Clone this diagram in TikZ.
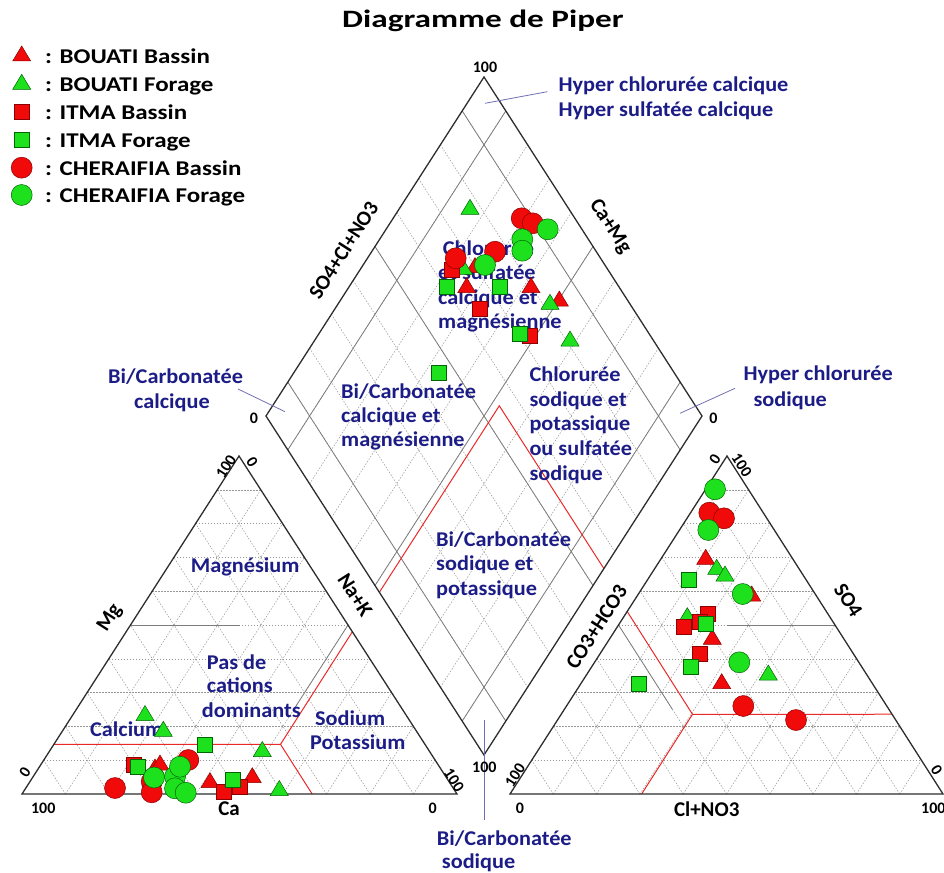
\documentclass[tikz,border=0pt]{standalone}
\usepackage{fontspec}
\setmainfont{Carlito}
\usetikzlibrary{calc}
\definecolor{lblue}{RGB}{28,28,135}
\definecolor{mred}{RGB}{240,10,10}
\definecolor{mredd}{RGB}{140,0,0}
\definecolor{mgreen}{RGB}{30,225,30}
\definecolor{mgreend}{RGB}{0,100,0}
\definecolor{gridc}{RGB}{150,150,150}
\definecolor{solidg}{RGB}{125,125,125}
\definecolor{framec}{RGB}{45,45,45}
\definecolor{redl}{RGB}{235,40,40}
\definecolor{annot}{RGB}{110,110,180}
\tikzset{
  gridline/.style={gridc, line width=0.5pt, dash pattern=on 1.5pt off 1.5pt},
  solidline/.style={solidg, line width=0.8pt},
  frameline/.style={framec, line width=1.3pt, line join=miter},
  redline/.style={redl, line width=1pt},
  annotline/.style={annot, line width=0.8pt},
  region/.style={lblue, font=\fontsize{21}{24}\selectfont\bfseries, inner sep=0pt, anchor=base west, xscale=1.06},
  axislabel/.style={black, font=\fontsize{21}{24}\selectfont\bfseries, inner sep=0pt},
  num/.style={black, font=\fontsize{16}{18}\selectfont\bfseries, inner sep=0pt},
  legtext/.style={black, font=\fontsize{21}{24}\selectfont\bfseries, anchor=base west, inner sep=0pt, xscale=1.19},
  rtri/.pic={\filldraw[fill=mred, draw=mredd, line width=0.5pt] (-9,6) -- (9,6) -- (0,-9) -- cycle;},
  gtri/.pic={\filldraw[fill=mgreen, draw=mgreend, line width=0.5pt] (-9,6) -- (9,6) -- (0,-9) -- cycle;},
  rsq/.pic={\filldraw[fill=mred, draw=mredd, line width=0.5pt] (-7.5,-7.5) rectangle (7.5,7.5);},
  gsq/.pic={\filldraw[fill=mgreen, draw=mgreend, line width=0.5pt] (-7.5,-7.5) rectangle (7.5,7.5);},
  rcirc/.pic={\filldraw[fill=mred, draw=mredd, line width=0.5pt] (0,0) circle (10.5);},
  gcirc/.pic={\filldraw[fill=mgreen, draw=mgreend, line width=0.5pt] (0,0) circle (10.5);},
}
\begin{document}
\begin{tikzpicture}[x=1pt,y=-1pt]
\useasboundingbox (0,0) rectangle (944,872);
% vertices
\coordinate (LA) at (22,794);
\coordinate (LB) at (457,794);
\coordinate (LC) at (239,456);
\coordinate (RA) at (510,794);
\coordinate (RB) at (943,794);
\coordinate (RC) at (727,456);
\coordinate (DL) at (266,416);
\coordinate (DT) at (484,77);
\coordinate (DB) at (484,755);
\coordinate (DR) at (702,416);
% grids
\foreach \f in {0.1,0.2,0.3,0.4,0.5,0.6,0.7,0.8,0.9}{
  \draw[gridline] ($(LA)!\f!(LC)$) -- ($(LB)!\f!(LC)$);
  \draw[gridline] ($(LA)!\f!(LB)$) -- ($(LA)!\f!(LC)$);
  \draw[gridline] ($(LB)!\f!(LA)$) -- ($(LB)!\f!(LC)$);
  \draw[gridline] ($(RA)!\f!(RC)$) -- ($(RB)!\f!(RC)$);
  \draw[gridline] ($(RA)!\f!(RB)$) -- ($(RA)!\f!(RC)$);
  \draw[gridline] ($(RB)!\f!(RA)$) -- ($(RB)!\f!(RC)$);
  \draw[gridline] ($(DL)!\f!(DB)$) -- ($(DT)!\f!(DR)$);
  \draw[gridline] ($(DL)!\f!(DT)$) -- ($(DB)!\f!(DR)$);
}
\foreach \f in {0.1,0.5,0.9}{
  \draw[solidline] ($(DL)!\f!(DB)$) -- ($(DT)!\f!(DR)$);
  \draw[solidline] ($(DL)!\f!(DT)$) -- ($(DB)!\f!(DR)$);
}
% partial solid lines in triangles
\draw[solidline] ($(LA)!0.5!(LC)$) -- (239.5,625);
\draw[solidline] ($(LB)!0.5!(LC)$) -- (293.75,709.5);
\draw[solidline] (726.5,625) -- ($(RB)!0.5!(RC)$);
\draw[solidline] ($(RA)!0.5!(RC)$) -- (672.5,709.5);
% red classification lines
\draw[redline] ($(LA)!0.147!(LC)$) -- (280.5,744.3) -- ($(LA)!0.667!(LB)$);
\draw[redline] (280.5,744.3) -- ($(LC)!0.52!(LB)$);
\draw[redline] ($(RB)!0.236!(RC)$) -- (692.5,714.3) -- ($(RA)!0.304!(RB)$);
\draw[redline] (692.5,714.3) -- ($(RA)!0.54!(RC)$);
\draw[redline] ($(DL)!0.52!(DB)$) -- (499.3,405.8) -- (603.9,568.6);
% frames
\draw[frameline] (LA) -- (LB) -- (LC) -- cycle;
\draw[frameline] (RA) -- (RB) -- (RC) -- cycle;
\draw[frameline] (DL) -- (DT) -- (DR) -- (DB) -- cycle;
% annotation lines
\draw[annotline] (485,103.3) -- (547.3,91.7);
\draw[annotline] (285,411.7) -- (238,389);
\draw[annotline] (680,413.3) -- (735,388.3);
\draw[annotline] (484.3,720) -- (484.3,820);
% title
\node[font=\fontsize{25}{30}\selectfont\bfseries, inner sep=0pt, xscale=1.33] (title) at (483,21) {Diagramme de Piper};
% legend
\pic at (21.7,55) {rtri};
\pic at (21.7,83.3) {gtri};
\pic at (21.7,111.7) {rsq};
\pic at (21.7,140) {gsq};
\pic at (21.7,167.7) {rcirc};
\pic at (21.7,195) {gcirc};
\node[legtext] (lg1) at (45,64) {: BOUATI Bassin};
\node[legtext] (lg2) at (45,91.7) {: BOUATI Forage};
\node[legtext] (lg3) at (45,119.3) {: ITMA Bassin};
\node[legtext] (lg4) at (45,147.3) {: ITMA Forage};
\node[legtext] (lg5) at (45,175) {: CHERAIFIA Bassin};
\node[legtext] (lg6) at (45,202.7) {: CHERAIFIA Forage};
% region labels
\node[region] (hc1) at (558.3,91.7) {Hyper chlorurée calcique};
\node[region] (hc2) at (558.3,116.7) {Hyper sulfatée calcique};
\node[region] (cs1) at (442.7,255) {Chlorurée};
\node[region] (cs2) at (438,279.5) {et sulfatée};
\node[region] (cs3) at (438,304.3) {calcique et};
\node[region] (cs4) at (438,328.7) {magnésienne};
\node[region] (bc1) at (341,398.3) {Bi/Carbonatée};
\node[region] (bc2) at (341,422.7) {calcique et};
\node[region] (bc3) at (341,446.7) {magnésienne};
\node[region] (cn1) at (529.3,381.7) {Chlorurée};
\node[region] (cn2) at (529.3,406) {sodique et};
\node[region] (cn3) at (529.3,430.5) {potassique};
\node[region] (cn4) at (529.3,455) {ou sulfatée};
\node[region] (cn5) at (529.3,480) {sodique};
\node[region] (bs1) at (436,546.7) {Bi/Carbonatée};
\node[region] (bs2) at (436,570.5) {sodique et};
\node[region] (bs3) at (436,595) {potassique};
\node[region] (mgs) at (190.7,572.7) {Magnésium};
\node[region] (pc1) at (206.7,669.3) {Pas de};
\node[region] (pc2) at (206.7,692.7) {cations};
\node[region] (pc3) at (201.7,717.7) {dominants};
\node[region] (cal) at (90,736.7) {Calcium};
\node[region] (sp1) at (315,725) {Sodium};
\node[region] (sp2) at (310,749.3) {Potassium};
\node[region] (hcs1) at (743.3,380.7) {Hyper chlorurée};
\node[region] (hcs2) at (753.3,406.7) {sodique};
\node[region] (bcc1) at (108,383) {Bi/Carbonatée};
\node[region] (bcc2) at (134,408) {calcique};
\node[region] (bso1) at (436.7,845) {Bi/Carbonatée};
\node[region] (bso2) at (441.7,868.3) {sodique};
% axis labels
\node[axislabel, rotate=57.3] (ax1) at (343.3,250) {SO4+Cl+NO3};
\node[axislabel, rotate=-57.3] (ax2) at (610,226.7) {Ca+Mg};
\node[axislabel, rotate=57.3] (ax3) at (110,618.3) {Mg};
\node[axislabel, rotate=-57.3] (ax4) at (355,595) {Na+K};
\node[axislabel] (ax5) at (229,809) {Ca};
\node[axislabel, rotate=57.3] (ax6) at (596.7,626.7) {CO3+HCO3};
\node[axislabel, rotate=-57.3] (ax7) at (848.3,600) {SO4};
\node[axislabel] (ax8) at (706.7,809) {Cl+NO3};
% numbers
\node[num] (n1) at (485,67) {100};
\node[num] (n2) at (254,418.3) {0};
\node[num] (n3) at (713.3,418.3) {0};
\node[num] (n4) at (484.3,767.3) {100};
\node[num, rotate=57.3] (n5) at (226,466.7) {100};
\node[num, rotate=-57.3] (n6) at (252.3,461.7) {0};
\node[num, rotate=57.3] (n7) at (25,772.7) {0};
\node[num, rotate=-57.3] (n8) at (454,780) {100};
\node[num] (n9) at (43.3,808.3) {100};
\node[num] (n10) at (432.7,808.3) {0};
\node[num, rotate=57.3] (n11) at (715,459.3) {0};
\node[num, rotate=-57.3] (n12) at (741.7,465) {100};
\node[num, rotate=57.3] (n13) at (515,775) {100};
\node[num, rotate=-57.3] (n14) at (936.7,770) {0};
\node[num] (n15) at (520,808.3) {0};
\node[num] (n16) at (933.3,808.3) {100};
% data points
\foreach \x/\y in {155/768,160/764,210/781.7,252.3/776.7,475/266.7,466.7/286.7,531/286.7,559.3/300,705.7/558.3,751.7/595,712.3/638.3,721.7/682.7}
  \pic at (\x,\y) {rtri};
\foreach \x/\y in {145/714.5,163.3/730.3,262.3/750.5,279.3/789.5,470/208.3,463.3/268.3,550/303.3,570/340,716.7/568.3,725/575,687.3/616.7,768.3/674}
  \pic at (\x,\y) {gtri};
\foreach \x/\y in {133.3/765,223.3/791.7,240/786.7,451.7/269.3,480/308.3,530/336,707.7/614,699.3/621.7,684/626.7,700/654}
  \pic at (\x,\y) {rsq};
\foreach \x/\y in {137.7/766.3,204.3/744.7,232.3/780,446.7/286.7,500/286.7,520/333.3,438.3/372.3,689/579.3,706/624,690.7/666.7,638.3/683.3}
  \pic at (\x,\y) {gsq};
\foreach \x/\y in {115/788,151.7/781.7,151.7/792.3,188.3/760,521.7/218.3,532.7/223.3,495/251.7,455.7/258.3,709.3/512.7,724/518.3,743.3/706,796/720}
  \pic at (\x,\y) {rcirc};
\foreach \x/\y in {175/776.7,154/777.5,180/766.7,175/788.3,185.7/792.7,547.7/229.3,522.3/239.3,522.3/250.7,485/265,715/489.3,708.3/530,742.7/594,739.3/662.3}
  \pic at (\x,\y) {gcirc};
\end{tikzpicture}
\end{document}
